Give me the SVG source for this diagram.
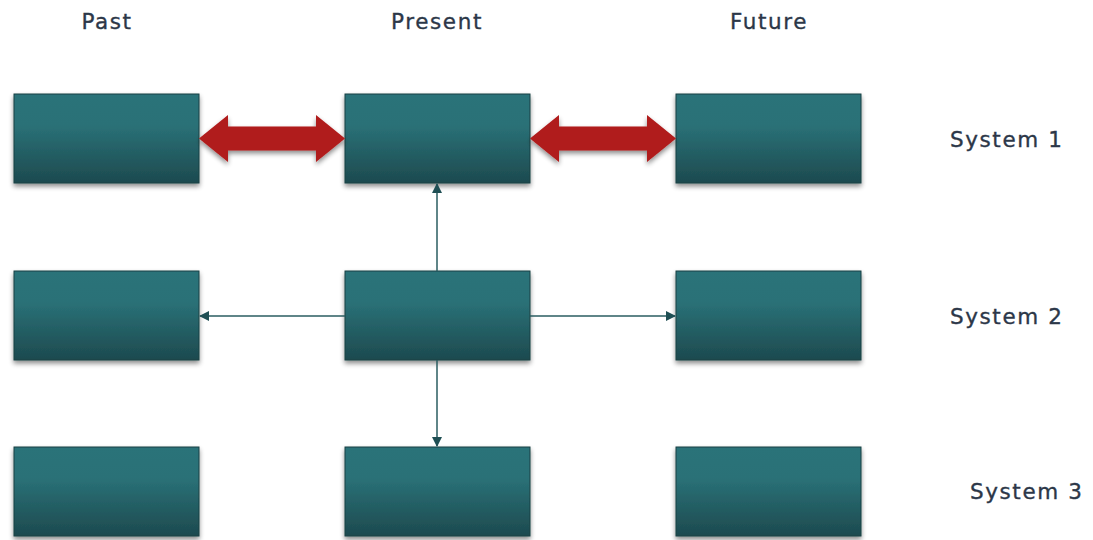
<svg xmlns="http://www.w3.org/2000/svg" width="1093" height="540" viewBox="0 0 1093 540">
  <defs>
    <linearGradient id="boxFill" x1="0" y1="0" x2="0" y2="1">
      <stop offset="0" stop-color="#2b7379"/>
      <stop offset="0.35" stop-color="#2a7177"/>
      <stop offset="1" stop-color="#1d4a4f"/>
    </linearGradient>
    <filter id="shadow" x="-10%" y="-10%" width="125%" height="130%">
      <feGaussianBlur in="SourceAlpha" stdDeviation="2.5"/>
      <feOffset dx="0" dy="3" result="b"/>
      <feComponentTransfer><feFuncA type="linear" slope="0.45"/></feComponentTransfer>
      <feMerge><feMergeNode/><feMergeNode in="SourceGraphic"/></feMerge>
    </filter>
    <marker id="tip" markerWidth="10" markerHeight="10" refX="9" refY="5" orient="auto" markerUnits="userSpaceOnUse" viewBox="0 0 10 10">
      <path d="M0,0 L10,5 L0,10 Z" fill="#1f4f54"/>
    </marker>
    <style>
      .box { fill: url(#boxFill); stroke: #1b4044; stroke-width: 1; filter: url(#shadow); }
      .lbl { font-family: "DejaVu Sans", "Open Sans", sans-serif; font-size: 21.5px; letter-spacing: 1.6px; fill: #2c3748; stroke: #2c3748; stroke-width: 0.35; }
      .link { stroke: #2a5c61; stroke-width: 1.5; fill: none; marker-end: url(#tip); }
      .big { fill: #b01c1c; filter: url(#shadow); }
    </style>
  </defs>

  <!-- column and row headings -->
  <g id="headings">
    <text class="lbl" x="107" y="29" text-anchor="middle">Past</text>
    <text class="lbl" x="437" y="29" text-anchor="middle">Present</text>
    <text class="lbl" x="769" y="29" text-anchor="middle">Future</text>
    <text class="lbl" x="950" y="147">System 1</text>
    <text class="lbl" x="950" y="324">System 2</text>
    <text class="lbl" x="970" y="499">System 3</text>
  </g>

  <!-- row 1 -->
  <g id="past-1"><rect class="box" x="14" y="94" width="185" height="89"/></g>
  <g id="present-1"><rect class="box" x="345" y="94" width="185" height="89"/></g>
  <g id="future-1"><rect class="box" x="676" y="94" width="185" height="89"/></g>
  <!-- row 2 -->
  <g id="past-2"><rect class="box" x="14" y="271" width="185" height="89"/></g>
  <g id="present-2"><rect class="box" x="345" y="271" width="185" height="89"/></g>
  <g id="future-2"><rect class="box" x="676" y="271" width="185" height="89"/></g>
  <!-- row 3 -->
  <g id="past-3"><rect class="box" x="14" y="447" width="185" height="89"/></g>
  <g id="present-3"><rect class="box" x="345" y="447" width="185" height="89"/></g>
  <g id="future-3"><rect class="box" x="676" y="447" width="185" height="89"/></g>

  <g id="connectors">
    <!-- double-headed block arrows between system 1 boxes -->
    <path class="big" d="M199,138.5 L228,115 L228,126.5 L316,126.5 L316,115 L345,138.5 L316,162 L316,150.5 L228,150.5 L228,162 Z"/>
    <path class="big" d="M530,138.5 L559,115 L559,126.5 L647,126.5 L647,115 L676,138.5 L647,162 L647,150.5 L559,150.5 L559,162 Z"/>
    <!-- thin links from the present system 2 box -->
    <line class="link" x1="437" y1="271" x2="437" y2="184"/>
    <line class="link" x1="345" y1="316" x2="200" y2="316"/>
    <line class="link" x1="530" y1="316" x2="675" y2="316"/>
    <line class="link" x1="437" y1="360" x2="437" y2="446"/>
  </g>
</svg>
